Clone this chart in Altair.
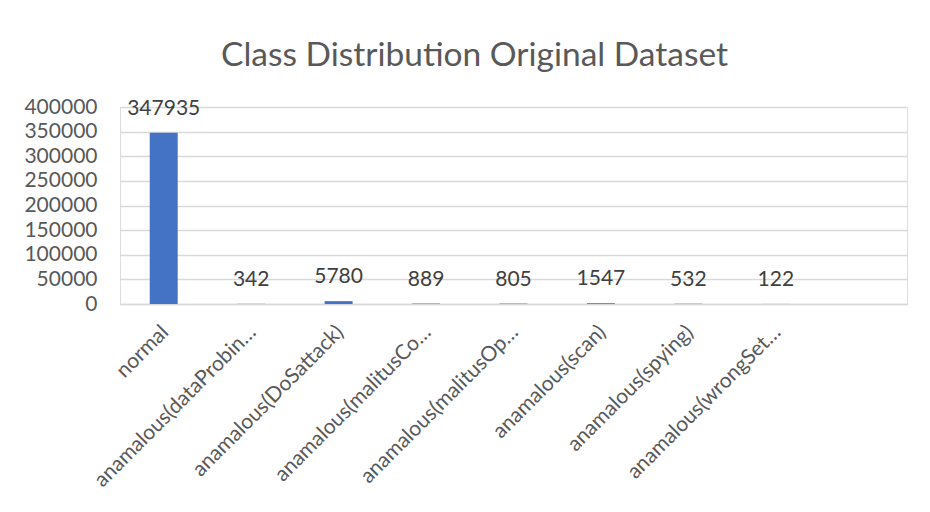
import altair as alt
import pandas as pd

categories = [
    "normal",
    "anamalous(dataProbin…",
    "anamalous(DoSattack)",
    "anamalous(malitusCo…",
    "anamalous(malitusOp…",
    "anamalous(scan)",
    "anamalous(spying)",
    "anamalous(wrongSet…",
]
counts = [347935, 342, 5780, 889, 805, 1547, 532, 122]
y_ticks = [0, 50000, 100000, 150000, 200000, 250000, 300000, 350000, 400000]
title_text = "Class Distribution Original Dataset"

df = pd.DataFrame({"cls": categories, "count": counts})
domain = categories + [" "]

FONT = "Lato"
TXT = "#595959"
GRID = "#d9d9d9"

x = alt.X(
    "cls:N",
    sort=None,
    scale=alt.Scale(domain=domain, paddingInner=0.68, paddingOuter=0.34),
    axis=alt.Axis(
        title=None,
        labelAngle=315,
        labelAlign="right",
        labelBaseline="alphabetic",
        labelFont=FONT,
        labelFontSize=21,
        labelColor=TXT,
        labelPadding=29,
        labelOffset=6,
        labelLimit=400,
        ticks=False,
        domainColor=GRID,
        domainWidth=1.5,
        grid=False,
        labelOverlap=False,
    ),
)
y = alt.Y(
    "count:Q",
    scale=alt.Scale(domain=[0, 400000], nice=False),
    axis=alt.Axis(
        title=None,
        values=y_ticks,
        format="d",
        labelFont=FONT,
        labelFontSize=21,
        labelColor=TXT,
        labelPadding=23,
        ticks=False,
        domain=False,
        gridColor=GRID,
        gridWidth=1.5,
    ),
)

base = alt.Chart(df)
bars = base.mark_bar(color="#4472C4").encode(x=x, y=y)
labels = base.mark_text(
    font=FONT, fontSize=21, color="#404040", baseline="alphabetic", dy=-18
).encode(x=x, y=y, text=alt.Text("count:Q", format="d"))

chart = (
    alt.layer(bars, labels)
    .properties(
        width=787,
        height=197,
        title=alt.Title(
            title_text,
            font=FONT,
            fontSize=33.5,
            fontWeight="normal",
            color=TXT,
            anchor="middle",
            frame="group",
            baseline="alphabetic",
            dx=-39,
            dy=36,
            offset=33,
        ),
        autosize=alt.AutoSizeParams(type="none"),
        padding={"left": 112, "top": 99, "right": 10, "bottom": 190},
    )
    .configure_view(strokeWidth=0)
    .configure(background="white")
)

chart.save("out.html", embed_options={"renderer": "svg", "actions": False})
